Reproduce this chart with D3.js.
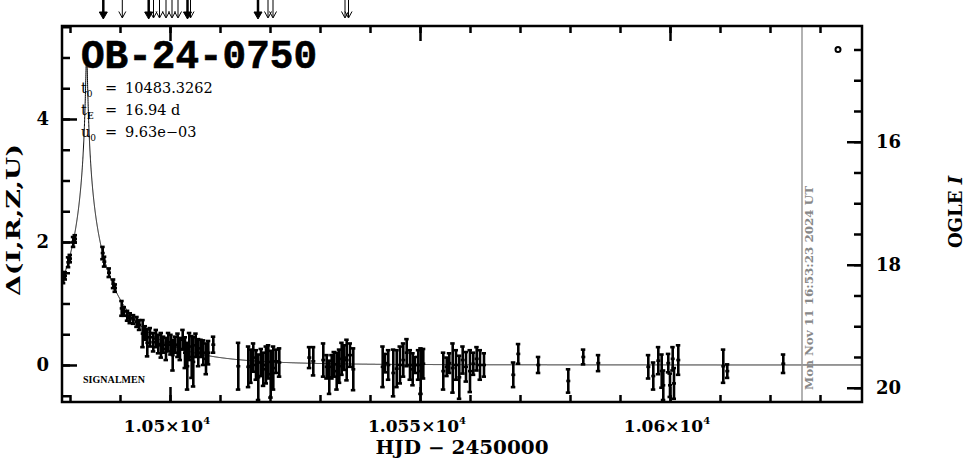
<!DOCTYPE html>
<html><head><meta charset="utf-8">
<script src="https://cdn.jsdelivr.net/npm/d3@7"></script>
<style>body{margin:0;background:#fff;} svg{display:block}</style>
</head><body><svg id="c" width="965" height="459"></svg>
<script>
// ---------- data ----------
const eventName = "OB-24-0750";
const modelParams = [10483.3262, 16.94, 0.00963]; // t0, tE, u0 (as printed on chart)
const paramLabels = [["t", "0", "10483.3262"], ["t", "E", "16.94 d"], ["u", "0", "9.63e\u221203"]];
const obsTimes = [
  10478.66, 10479.0, 10479.66, 10480.0, 10480.66, 10481.0,
  10486.54, 10486.86, 10487.8, 10488.66, 10489.0, 10490.34, 10490.8, 10491.46, 10492.0, 10492.66,
  10493.34, 10493.86, 10494.54, 10495.0, 10495.46, 10496.0, 10496.66, 10497.2, 10497.66, 10498.2,
  10498.66, 10499.2, 10499.66, 10500.14, 10500.54, 10501.0, 10501.54, 10502.0, 10502.54, 10503.0,
  10503.46, 10503.86, 10504.34, 10504.66, 10505.14, 10505.66, 10506.14, 10506.66, 10507.2, 10507.66, 10508.66,
  10513.66, 10515.66, 10516.14, 10516.66, 10517.2, 10517.66, 10518.2, 10518.66, 10519.2, 10519.66,
  10520.14, 10520.66, 10521.2, 10521.86,
  10527.86, 10528.66, 10530.66, 10531.34, 10531.86, 10532.34, 10532.8, 10533.34, 10533.86, 10534.34,
  10534.8, 10535.34, 10536.0, 10536.66,
  10542.54, 10543.0, 10543.66, 10544.66, 10545.34, 10546.0, 10546.66, 10547.34, 10548.0, 10548.54,
  10549.0, 10549.66, 10550.14, 10550.66,
  10554.66, 10555.34, 10555.86, 10556.54, 10557.2, 10557.86, 10558.54, 10559.2, 10560.0, 10560.66,
  10561.34, 10562.0, 10562.8,
  10568.66, 10569.66, 10573.66, 10579.66, 10582.66, 10585.66,
  10595.66, 10596.66, 10597.66, 10598.34, 10598.66, 10599.66, 10600.0, 10600.54, 10600.8, 10601.66,
  10610.66, 10611.46, 10622.66
];
const obsDelta = [
  1.42, 1.45, 1.67, 1.73, 2.00, 2.05,
  1.82, 1.68, 1.50, 1.32, 1.25, 0.92, 0.87, 0.80, 0.76, 0.74,
  0.70, 0.65, 0.51, 0.52, 0.36, 0.45, 0.37, 0.43, 0.34, 0.32,
  0.33, 0.26, 0.37, 0.33, 0.16, 0.33, 0.32, 0.26, 0.41, 0.20,
  -0.02, 0.30, 0.13, 0.05, 0.32, 0.20, 0.27, 0.20, 0.10, 0.20, 0.33,
  -0.02, -0.03, -0.02, 0.12, 0.00, -0.20, 0.04, -0.07, 0.00, 0.05,
  -0.15, -0.05, 0.06, 0.04,
  0.12, 0.06, 0.08, -0.03, -0.20, -0.03, 0.01, -0.10, -0.02, 0.10,
  0.12, 0.08, 0.16, -0.07,
  -0.03, 0.03, 0.00, -0.13, -0.06, 0.00, 0.08, 0.20, 0.00, -0.07,
  0.00, 0.00, -0.10, 0.02,
  -0.10, -0.03, 0.03, -0.05, 0.00, -0.20, 0.08, -0.03, -0.10, 0.02,
  0.10, 0.00, 0.00,
  -0.16, 0.18, 0.00, -0.26, 0.13, 0.03,
  -0.03, -0.18, 0.07, -0.10, -0.33, 0.03, -0.33, 0.10, -0.30, 0.08,
  -0.02, -0.10, 0.02
];
const obsErr = [
  0.09, 0.06, 0.08, 0.06, 0.08, 0.06,
  0.10, 0.08, 0.07, 0.07, 0.06, 0.12, 0.07, 0.08, 0.08, 0.07,
  0.08, 0.08, 0.22, 0.11, 0.22, 0.15, 0.15, 0.14, 0.15, 0.20,
  0.13, 0.18, 0.15, 0.16, 0.25, 0.13, 0.19, 0.18, 0.16, 0.25,
  0.38, 0.22, 0.34, 0.40, 0.19, 0.22, 0.14, 0.20, 0.25, 0.19, 0.13,
  0.38, 0.33, 0.27, 0.23, 0.24, 0.37, 0.22, 0.27, 0.30, 0.27,
  0.38, 0.35, 0.19, 0.23,
  0.17, 0.23, 0.27, 0.19, 0.27, 0.19, 0.20, 0.30, 0.27, 0.26,
  0.20, 0.33, 0.19, 0.34,
  0.33, 0.15, 0.24, 0.38, 0.30, 0.30, 0.27, 0.22, 0.24, 0.26,
  0.13, 0.24, 0.37, 0.24,
  0.30, 0.15, 0.16, 0.40, 0.24, 0.35, 0.22, 0.24, 0.34, 0.18,
  0.19, 0.24, 0.19,
  0.20, 0.16, 0.13, 0.19, 0.12, 0.13,
  0.19, 0.22, 0.22, 0.27, 0.24, 0.15, 0.19, 0.19, 0.25, 0.24,
  0.27, 0.11, 0.15
];
const thickArrowTimes = [10486.66, 10495.74, 10503.5, 10517.6];
const thinArrowTimes = [10490.46, 10496.7, 10497.9, 10499.2, 10500.4, 10501.6, 10504.1, 10519.6, 10520.6, 10535.0, 10535.7];
const xMajorTicks = [10500, 10550, 10600];
const xTickLabels = ["1.05\u00d710", "1.055\u00d710", "1.06\u00d710"];
const xTickExp = "4";
const yLeftLabels = [0, 2, 4];
const yRightLabels = [16, 18, 20];
const baselineI = 19.63;
const nowTime = 10626.4;
const nowLabel = "Mon Nov 11 16:53:23 2024 UT";
const markerPoint = [10633.6, 14.5];
const surveyLabel = "SIGNALMEN";

// ---------- layout ----------
const svg = d3.select("#c");
const L = 62, R = 862, T = 26, B = 402;
const x = d3.scaleLinear().domain([10478.4, 10638.4]).range([L, R]);
const y = d3.scaleLinear().domain([-0.602, 5.512]).range([B, T]);
const yI = d3.scaleLinear().domain([baselineI + 0.602, baselineI - 5.512]).range([B, T]);
const serifB = "'DejaVu Serif', serif";

svg.append("defs").append("clipPath").attr("id", "clip")
  .append("rect").attr("x", L).attr("y", T).attr("width", R - L).attr("height", B - T);

const plot = svg.append("g").attr("clip-path", "url(#clip)");

// model curve from printed parameters
const [t0, tE, u0] = modelParams;
const model = d3.range(x.domain()[0], x.domain()[1], 0.01).map(t => {
  const tau = (t - t0) / tE;
  const u = Math.sqrt(u0 * u0 + tau * tau);
  const A = (u * u + 2) / (u * Math.sqrt(u * u + 4));
  return [t, 2.5 * Math.log10(A)];
});
plot.append("path").datum(model)
  .attr("d", d3.line().x(d => x(d[0])).y(d => y(d[1])))
  .attr("fill", "none").attr("stroke", "#000").attr("stroke-width", 1);

// error bars
const obs = obsTimes.map((t, i) => ({t, d: obsDelta[i], e: obsErr[i]}));
const eb = plot.append("g").attr("stroke", "#000").attr("stroke-width", 2.6);
obs.forEach(o => {
  const xx = x(o.t), y1 = y(o.d + o.e), y2 = y(o.d - o.e);
  eb.append("line").attr("x1", xx).attr("x2", xx).attr("y1", y1).attr("y2", y2);
  eb.append("line").attr("x1", xx - 2.5).attr("x2", xx + 2).attr("y1", y1).attr("y2", y1);
  eb.append("line").attr("x1", xx - 2.5).attr("x2", xx + 2).attr("y1", y2).attr("y2", y2);
  eb.append("line").attr("x1", xx - 2).attr("x2", xx + 2).attr("y1", y(o.d)).attr("y2", y(o.d));
});

// now line
svg.append("line").attr("x1", x(nowTime)).attr("x2", x(nowTime)).attr("y1", T).attr("y2", B)
  .attr("stroke", "#999").attr("stroke-width", 1.5);
svg.append("text").attr("transform", `translate(${x(nowTime) + 11},${B - 12}) rotate(-90)`)
  .attr("font-family", serifB).attr("font-weight", "bold").attr("font-size", 11)
  .attr("fill", "#888").attr("textLength", 204).attr("lengthAdjust", "spacingAndGlyphs")
  .text(nowLabel);

// marker circle
svg.append("circle").attr("cx", x(markerPoint[0])).attr("cy", yI(markerPoint[1])).attr("r", 2.5)
  .attr("fill", "none").attr("stroke", "#000").attr("stroke-width", 2);

// axes ticks (inward)
function addAxis(gen, tr) {
  const g = svg.append("g").attr("transform", tr).call(gen);
  g.select(".domain").remove();
  g.selectAll("line").attr("stroke", "#000").attr("stroke-width", 2.5);
  g.selectAll("text").remove();
}
const xMinor = d3.range(10480, 10640, 10);
addAxis(d3.axisBottom(x).tickValues(xMinor).tickSize(-7), `translate(0,${B})`);
addAxis(d3.axisBottom(x).tickValues(xMajorTicks).tickSize(-15), `translate(0,${B})`);
addAxis(d3.axisTop(x).tickValues(xMinor).tickSize(-7), `translate(0,${T})`);
addAxis(d3.axisTop(x).tickValues(xMajorTicks).tickSize(-15), `translate(0,${T})`);
const yMinor = d3.range(-0.5, 5.6, 0.5);
addAxis(d3.axisLeft(y).tickValues(yMinor).tickSize(-8), `translate(${L},0)`);
addAxis(d3.axisLeft(y).tickValues(yLeftLabels).tickSize(-15), `translate(${L},0)`);
const iMinor = d3.range(14.5, 20.3, 0.5);
addAxis(d3.axisRight(yI).tickValues(iMinor).tickSize(-8), `translate(${R},0)`);
addAxis(d3.axisRight(yI).tickValues(yRightLabels).tickSize(-15), `translate(${R},0)`);

// frame
svg.append("rect").attr("x", L).attr("y", T).attr("width", R - L).attr("height", B - T)
  .attr("fill", "none").attr("stroke", "#000").attr("stroke-width", 2.5);

// tick labels
xMajorTicks.forEach((v, i) => {
  const t = svg.append("text").attr("x", x(v) - 3).attr("y", 432).attr("text-anchor", "middle")
    .attr("font-family", serifB).attr("font-weight", "bold").attr("font-size", 17);
  t.append("tspan").text(xTickLabels[i]);
  t.append("tspan").attr("dy", -8).attr("font-size", 10).text(xTickExp);
});
yLeftLabels.forEach(v => {
  svg.append("text").attr("x", 49).attr("y", y(v) + 6.5).attr("text-anchor", "end")
    .attr("font-family", serifB).attr("font-weight", "bold").attr("font-size", 18).text(v);
});
yRightLabels.forEach(v => {
  svg.append("text").attr("x", 876).attr("y", yI(v) + 6.5).attr("text-anchor", "start")
    .attr("font-family", serifB).attr("font-weight", "bold").attr("font-size", 18).text(v);
});

// axis titles
svg.append("text").attr("x", 462).attr("y", 454).attr("text-anchor", "middle")
  .attr("font-family", serifB).attr("font-weight", "bold").attr("font-size", 18)
  .attr("textLength", 173).attr("lengthAdjust", "spacingAndGlyphs").text("HJD \u2212 2450000");
svg.append("text").attr("transform", "translate(20,220) rotate(-90)").attr("text-anchor", "middle")
  .attr("font-family", serifB).attr("font-weight", "bold").attr("font-size", 18)
  .attr("textLength", 152).attr("lengthAdjust", "spacingAndGlyphs").text("\u0394(I,R,Z,U)");
const og = svg.append("text").attr("transform", "translate(962,212) rotate(-90)").attr("text-anchor", "middle")
  .attr("font-family", serifB).attr("font-weight", "bold").attr("font-size", 18);
og.append("tspan").text("OGLE ");
og.append("tspan").attr("font-style", "italic").text("I");

// title & params
svg.append("text").attr("x", 81).attr("y", 68).attr("font-family", "'Liberation Mono', monospace")
  .attr("font-weight", "bold").attr("font-size", 40).attr("textLength", 236)
  .attr("lengthAdjust", "spacingAndGlyphs").attr("stroke", "#000").attr("stroke-width", 0.6).text(eventName);
paramLabels.forEach((p, i) => {
  const by = 93 + i * 22;
  const t = svg.append("text").attr("x", 81).attr("y", by)
    .attr("font-family", serifB).attr("font-size", 14.5);
  t.append("tspan").text(p[0]);
  t.append("tspan").attr("dy", 4).attr("font-size", 9).attr("font-weight", p[1] === "E" ? "bold" : "normal").text(p[1]);
  t.append("tspan").attr("x", 105).attr("y", by).text("=");
  t.append("tspan").attr("x", 125).attr("y", by).text(p[2]);
});
svg.append("text").attr("x", 83).attr("y", 383).attr("font-family", "'Liberation Serif', serif")
  .attr("font-weight", "bold").attr("font-size", 10).attr("textLength", 62).text(surveyLabel);

// arrows
function arrow(t, thick) {
  const xx = x(t);
  const g = svg.append("g").attr("stroke", "#000");
  g.append("line").attr("x1", xx).attr("x2", xx).attr("y1", 0).attr("y2", thick ? 14 : 17)
    .attr("stroke-width", thick ? 2.5 : 1);
  if (thick) {
    g.append("path").attr("d", `M${xx - 4},12 L${xx + 4},12 L${xx},19 Z`).attr("fill", "#000").attr("stroke-width", 1);
  } else {
    g.append("path").attr("d", `M${xx - 3.5},11.5 L${xx},18 L${xx + 3.5},11.5`).attr("fill", "none").attr("stroke-width", 1);
  }
}
thickArrowTimes.forEach(t => arrow(t, true));
thinArrowTimes.forEach(t => arrow(t, false));
</script></body></html>
